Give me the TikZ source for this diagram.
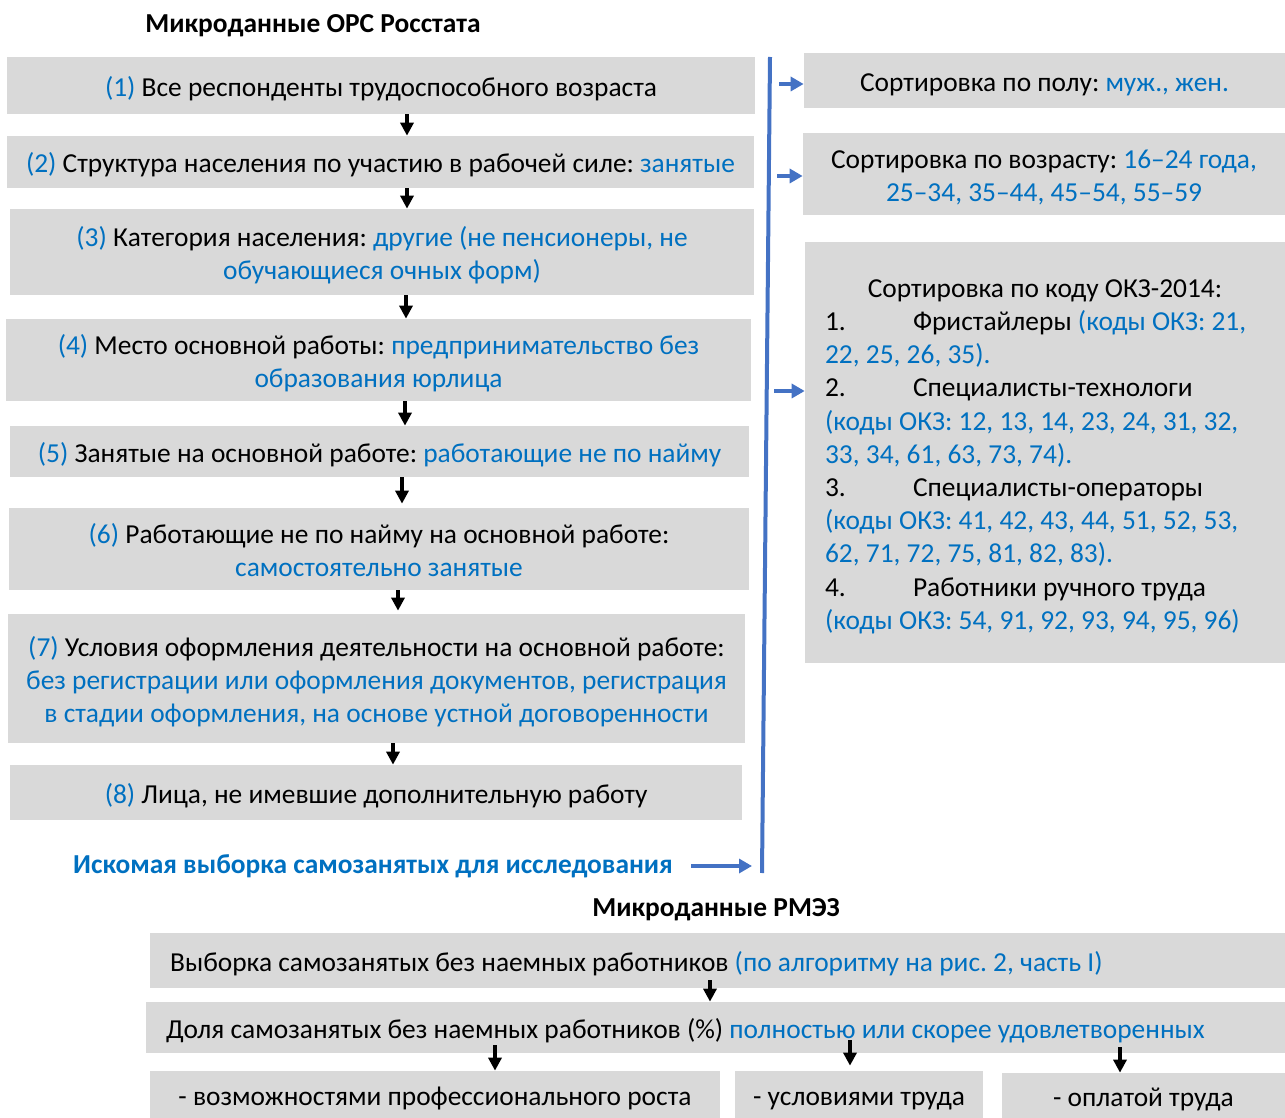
\documentclass[tikz,border=0pt]{standalone}
\usepackage{fontspec}
\setmainfont{Carlito}
\usepackage{xcolor}
\definecolor{boxgray}{HTML}{D9D9D9}
\definecolor{oblue}{HTML}{0070C0}
\definecolor{lineblue}{HTML}{4472C4}
\usetikzlibrary{arrows.meta,calc}
\newcommand{\blu}[1]{\textcolor{oblue}{#1}}
\newcommand{\okzno}[1]{\makebox[1.76cm][l]{#1}}
\frenchspacing

\begin{document}
\begin{tikzpicture}[
    x=0.02cm, y=-0.02cm,
    every node/.style={font=\fontsize{15.6}{18.9}\selectfont,
      execute at begin node={\rule{0pt}{16.4pt}},
      execute at end node={\rule[-4.2pt]{0pt}{0pt}}},
    gbox/.style 2 args={fill=boxgray, text width=#1*0.02cm,
      minimum height=#2*0.02cm, inner sep=0pt, align=flush center},
    lbox/.style 2 args={fill=boxgray, text width=#1, inner xsep=0.4cm,
      inner ysep=0pt, minimum height=#2*0.02cm, align=flush left},
    head/.style={font=\fontsize{15.6}{18.9}\selectfont\bfseries},
    darr/.style={-{Triangle[length=0.26cm,width=0.26cm]}, line width=0.07cm, black},
    barr/.style={-{Triangle[length=0.26cm,width=0.28cm]}, line width=0.08cm, color=lineblue},
  ]
  \useasboundingbox (0,0) rectangle (1285,1118);

  % part I: microdata of the labour force survey
  \node[head] (orstitle) at (313,22) {Микроданные ОРС Росстата};
  \node[gbox={748}{57}] (b1) at (381,85.5)
    {\blu{(1)} Все респонденты трудоспособного возраста};
  \node[gbox={747}{52}] (b2) at (380.5,162)
    {\blu{(2)} Структура населения по участию в рабочей силе: \blu{занятые}};
  \node[gbox={744}{86}] (b3) at (382,252)
    {\blu{(3)} Категория населения: \blu{другие (не пенсионеры, не}\\
     \blu{обучающиеся очных форм)}};
  \node[gbox={745}{82}] (b4) at (378.5,360)
    {\blu{(4)} Место основной работы: \blu{предпринимательство без}\\
     \blu{образования юрлица}};
  \node[gbox={739}{51}] (b5) at (379.5,451.5)
    {\blu{(5)} Занятые на основной работе: \blu{работающие не по найму}};
  \node[gbox={740}{82}] (b6) at (379,549)
    {\blu{(6)} Работающие не по найму на основной работе:\\
     \blu{самостоятельно занятые}};
  \node[gbox={737}{129}] (b7) at (376.5,678.5)
    {\blu{(7)} Условия оформления деятельности на основной работе:\\
     \blu{без регистрации или оформления документов, регистрация}\\
     \blu{в стадии оформления, на основе устной договоренности}};
  \node[gbox={732}{55}] (b8) at (376,792.5)
    {\blu{(8)} Лица, не имевшие дополнительную работу};
  \node[head, text=oblue] (target) at (373,863)
    {Искомая выборка самозанятых для исследования};

  \draw[darr] (b1.south -| 407,0) -- (b2.north -| 407,0);
  \draw[darr] (b2.south -| 407,0) -- (b3.north -| 407,0);
  \draw[darr] (b3.south -| 406,0) -- (b4.north -| 406,0);
  \draw[darr] (b4.south -| 405,0) -- (b5.north -| 405,0);
  \draw[darr] (b5.south -| 402,0) -- ([yshift=0.08cm]b6.north -| 402,0);
  \draw[darr] (b6.south -| 398,0) -- ([yshift=0.06cm]b7.north -| 398,0);
  \draw[darr] (b7.south -| 393,0) -- (b8.north -| 393,0);

  % sorting on the right
  \coordinate (vtop) at (770,57);
  \coordinate (vbot) at (762,873);
  \draw[line width=0.08cm, lineblue] (vtop) -- (vbot);

  \node[gbox={481}{55}] (r1) at (1044.5,80.5)
    {Сортировка по полу: \blu{муж., жен.}};
  \node[gbox={482}{82}] (r2) at (1044,174)
    {Сортировка по возрасту: \blu{16–24 года,}\\
     \blu{25–34, 35–44, 45–54, 55–59}};
  \node[lbox={8.8cm}{421}] (r3) at (1045,452.5)
    {{\centering Сортировка по коду ОКЗ-2014:\par}
     \okzno{1.}Фристайлеры \blu{(коды ОКЗ: 21,}\\
     \blu{22, 25, 26, 35).}\\
     \okzno{2.}Специалисты-технологи\\
     \blu{(коды ОКЗ: 12, 13, 14, 23, 24, 31, 32,}\\
     \blu{33, 34, 61, 63, 73, 74).}\\
     \okzno{3.}Специалисты-операторы\\
     \blu{(коды ОКЗ: 41, 42, 43, 44, 51, 52, 53,}\\
     \blu{62, 71, 72, 75, 81, 82, 83).}\\
     \okzno{4.}Работники ручного труда\\
     \blu{(коды ОКЗ: 54, 91, 92, 93, 94, 95, 96)}};

  \coordinate (a1) at (779,84);
  \coordinate (a2) at (777,176);
  \coordinate (a3) at (774,391);
  \draw[barr] (a1) -- (a1 -| r1.west);
  \draw[barr] (a2) -- (a2 -| r2.west);
  \draw[barr] (a3) -- (a3 -| r3.west);
  \coordinate (tend) at (752,866);
  \draw[barr] ([xshift=0.24cm]target.east |- tend) -- (tend);

  % part II: microdata of RLMS
  \node[head] (rmeztitle) at (716,906) {Микроданные РМЭЗ};
  \node[lbox={21.9cm}{55}] (c1) at (717.5,960.5)
    {Выборка самозанятых без наемных работников \blu{(по алгоритму на рис. 2, часть I)}};
  \node[lbox={22cm}{51}] (c2) at (716,1027.5)
    {Доля самозанятых без наемных работников (\%) \blu{полностью или скорее удовлетворенных}};
  \node[gbox={570}{47}] (d1) at (435,1094.5) {- возможностями профессионального роста};
  \node[gbox={248}{47}] (d2) at (859,1094.5) {- условиями труда};
  \node[gbox={283}{45}] (d3) at (1143.5,1095.5) {- оплатой труда};

  \draw[darr] ([yshift=0.16cm]c1.south -| 710,0) -- (c2.north -| 710,0);
  \draw[darr] ([yshift=0.16cm]c2.south -| 495,0) -- (d1.north -| 495,0);
  \draw[darr] ([yshift=0.26cm]c2.south -| 850,0) -- ([yshift=0.1cm]d2.north -| 850,0);
  \draw[darr] ([yshift=0.12cm]c2.south -| 1120,0) -- (d3.north -| 1120,0);
\end{tikzpicture}
\end{document}
